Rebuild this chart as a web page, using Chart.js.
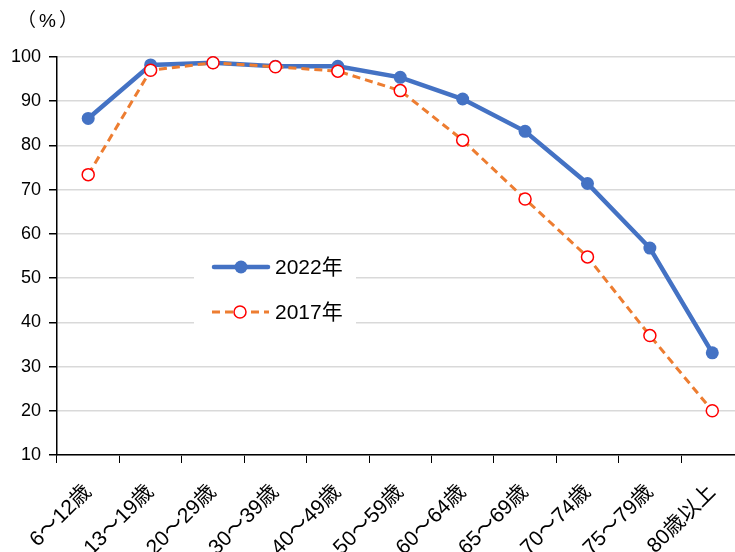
<!DOCTYPE html>
<html><head><meta charset="utf-8">
<script src="https://cdn.jsdelivr.net/npm/chart.js@4/dist/chart.umd.min.js"></script>
<style>
html,body{margin:0;padding:0;background:#fff;overflow:hidden;width:735px;height:552px;}
#wrap{position:absolute;left:0;top:0;width:751px;height:552px;}
</style></head><body>
<div id="wrap"><canvas id="c" width="751" height="552"></canvas></div>
<script>
const categories = ["6～12歳","13～19歳","20～29歳","30～39歳","40～49歳","50～59歳","60～64歳","65～69歳","70～74歳","75～79歳","80歳以上"];
const series2022 = [86.1, 98.2, 98.7, 97.9, 97.9, 95.4, 90.5, 83.2, 71.4, 56.8, 33.1];
const series2017 = [73.4, 97.0, 98.7, 97.8, 96.8, 92.4, 81.2, 67.9, 54.8, 37.0, 20.0];
const yTicks = [10,20,30,40,50,60,70,80,90,100];
const unitLabel = "（%）";
const seriesNames = ["2022年","2017年"];

const FONT = "'Liberation Sans', 'Noto Sans CJK JP', sans-serif";

const overlay = {
  id: 'overlay',
  afterDraw(chart){
    const ctx = chart.ctx;
    ctx.save();
    ctx.fillStyle = '#000';
    ctx.font = "19px " + FONT;
    ctx.letterSpacing = '3px';
    ctx.textBaseline = 'middle';
    ctx.textAlign = 'left';
    ctx.fillText(unitLabel, 17, 22);
    ctx.letterSpacing = '0px';
    // legend box
    ctx.fillStyle = '#fff';
    ctx.fillRect(194, 248, 162, 86);
    // 2022
    ctx.strokeStyle = '#4472C4';
    ctx.lineWidth = 4.5;
    ctx.lineCap = 'round';
    ctx.beginPath(); ctx.moveTo(214, 267); ctx.lineTo(268, 267); ctx.stroke();
    ctx.fillStyle = '#4472C4';
    ctx.beginPath(); ctx.arc(241, 267, 6.5, 0, Math.PI*2); ctx.fill();
    // 2017
    ctx.strokeStyle = '#ED7D31';
    ctx.lineWidth = 3;
    ctx.lineCap = 'butt';
    ctx.setLineDash([8,5]);
    ctx.beginPath(); ctx.moveTo(212, 312); ctx.lineTo(269, 312); ctx.stroke();
    ctx.setLineDash([]);
    ctx.fillStyle = '#fff';
    ctx.strokeStyle = '#FF0000';
    ctx.lineWidth = 1.5;
    ctx.beginPath(); ctx.arc(240, 312, 6, 0, Math.PI*2); ctx.fill(); ctx.stroke();
    ctx.fillStyle = '#000';
    ctx.font = "21px " + FONT;
    ctx.fillText(seriesNames[0], 275, 268);
    ctx.fillText(seriesNames[1], 275, 313);
    ctx.restore();
  }
};

new Chart(document.getElementById('c'), {
  type: 'line',
  data: {
    labels: categories,
    datasets: [
      {
        label: seriesNames[1],
        data: series2017,
        borderColor: '#ED7D31',
        borderWidth: 3,
        borderDash: [8,5],
        pointRadius: 6,
        pointBackgroundColor: '#fff',
        pointBorderColor: '#FF0000',
        pointBorderWidth: 1.5,
        tension: 0,
        clip: false,
        order: 1
      },
      {
        label: seriesNames[0],
        data: series2022,
        borderColor: '#4472C4',
        borderWidth: 4.5,
        pointRadius: 6.5,
        pointBackgroundColor: '#4472C4',
        pointBorderColor: '#4472C4',
        pointBorderWidth: 0,
        tension: 0,
        clip: false,
        order: 2
      }
    ]
  },
  options: {
    responsive: false,
    animation: false,
    events: [],
    layout: { padding: { left: 0, right: 0, top: 57, bottom: 0 } },
    plugins: { legend: { display: false }, tooltip: { enabled: false } },
    scales: {
      x: {
        offset: true,
        grid: { display: true, drawOnChartArea: false, offset: true, tickLength: 8, color: '#000', lineWidth: 1 },
        border: { color: '#000', width: 1.5 },
        ticks: { color: '#000', font: { size: 21, family: FONT }, maxRotation: 45, minRotation: 45, autoSkip: false, padding: 17 },
        afterFit(s){ s.height = 97; }
      },
      y: {
        min: 10, max: 100,
        afterBuildTicks(s){ s.ticks = yTicks.map(v => ({ value: v })); },
        grid: { color: '#d9d9d9', lineWidth: 1.5, tickColor: '#000', tickLength: 8 },
        border: { color: '#000', width: 1.5 },
        ticks: { color: '#000', font: { size: 18, family: FONT }, padding: 8 },
        afterFit(s){ s.width = 57; }
      }
    }
  },
  plugins: [overlay]
});
</script>
</body></html>
